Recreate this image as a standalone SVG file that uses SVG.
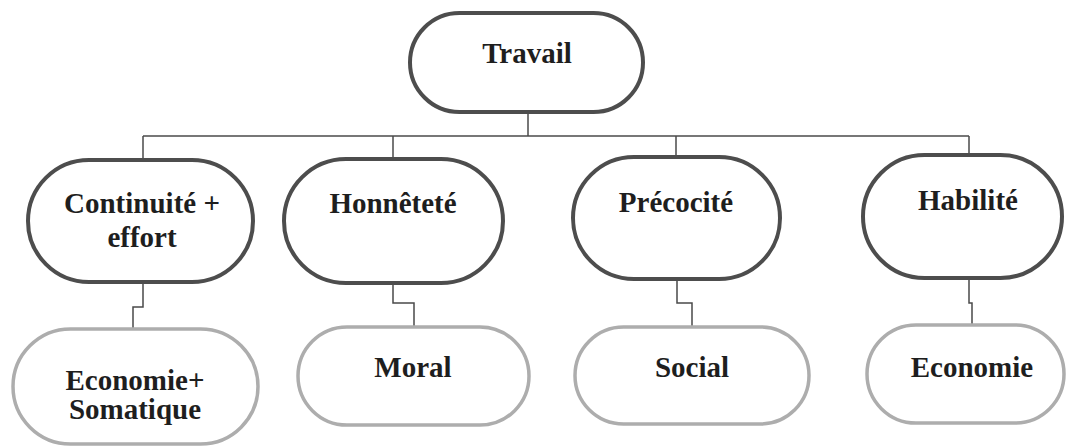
<svg xmlns="http://www.w3.org/2000/svg" width="1067" height="448" viewBox="0 0 1067 448">
<style>
.bg{fill:#ffffff}
.n1{fill:#ffffff;stroke:#4d4d4d;stroke-width:4}
.n3{fill:#ffffff;stroke:#adadad;stroke-width:3.5}
.t{font-family:"Liberation Serif","Times New Roman",serif;font-weight:bold;font-size:29px;fill:#1e1e1e;text-anchor:middle}
.c{fill:none;stroke:#4a4a4a;stroke-width:1.5}
</style>
<rect class="bg" x="0" y="0" width="1067" height="448"/>
<g id="connectors">
<polyline class="c" points="528,112 528,136"/>
<polyline class="c" points="143,136 969,136"/>
<polyline class="c" points="143,136 143,160"/>
<polyline class="c" points="393,136 393,159"/>
<polyline class="c" points="676,136 676,157"/>
<polyline class="c" points="969,136 969,155"/>
<polyline class="c" points="143,282 143,307 133,307 133,329"/>
<polyline class="c" points="393,283 393,303 414,303 414,326"/>
<polyline class="c" points="677,279 677,303 692,303 692,327"/>
<polyline class="c" points="969,278 969,303 972,303 972,325"/>
</g>
<g id="travail">
<rect class="n1" x="410" y="13" width="233" height="99" rx="49.5"/>
<text class="t" x="527" y="63">Travail</text>
</g>
<g id="continuite">
<rect class="n1" x="28" y="160" width="225" height="122" rx="61"/>
<text class="t" x="142" y="213">Continuité +</text>
<text class="t" x="142" y="247">effort</text>
</g>
<g id="honnetete">
<rect class="n1" x="284" y="159" width="219" height="124" rx="62"/>
<text class="t" x="393" y="213">Honnêteté</text>
</g>
<g id="precocite">
<rect class="n1" x="573" y="157" width="207" height="122" rx="61"/>
<text class="t" x="676" y="212">Précocité</text>
</g>
<g id="habilite">
<rect class="n1" x="863" y="155" width="199" height="123" rx="61.5"/>
<text class="t" x="968" y="210">Habilité</text>
</g>
<g id="economie-somatique">
<rect class="n3" x="13" y="329" width="245" height="115" rx="57.5"/>
<text class="t" x="135" y="390">Economie+</text>
<text class="t" x="135" y="419">Somatique</text>
</g>
<g id="moral">
<rect class="n3" x="298" y="327" width="231" height="98" rx="49"/>
<text class="t" x="413" y="377">Moral</text>
</g>
<g id="social">
<rect class="n3" x="575" y="327" width="234" height="97" rx="48.5"/>
<text class="t" x="692" y="377">Social</text>
</g>
<g id="economie">
<rect class="n3" x="867" y="325" width="197" height="98" rx="49"/>
<text class="t" x="972" y="377">Economie</text>
</g>
</svg>
